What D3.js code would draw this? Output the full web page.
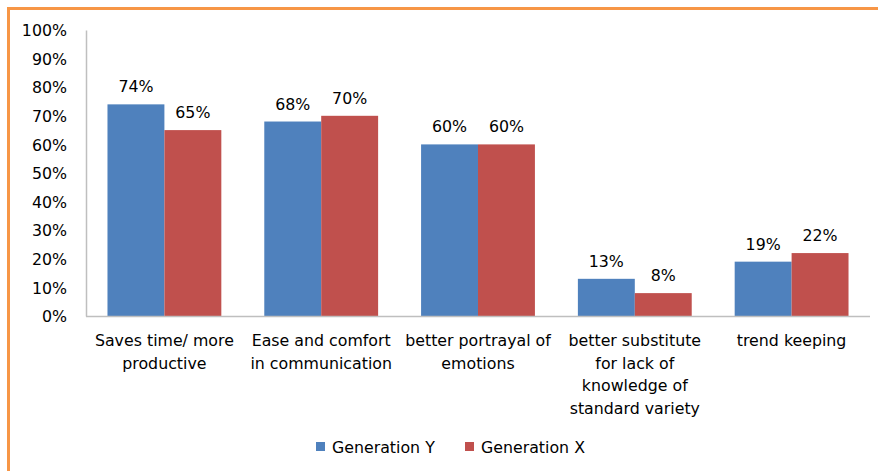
<!DOCTYPE html>
<html>
<head>
<meta charset="utf-8">
<script src="https://cdn.jsdelivr.net/npm/d3@7"></script>
<style>
  body { margin: 0; background: #fff; }
  svg text { font-family: "DejaVu Sans", "Open Sans", sans-serif; fill: #000; }
</style>
</head>
<body>
<div id="chart"></div>
<script>
// data
const categories = [
  ["Saves time/ more", "productive"],
  ["Ease and comfort", "in communication"],
  ["better portrayal of", "emotions"],
  ["better substitute", "for lack of", "knowledge of", "standard variety"],
  ["trend keeping"]
];
const seriesNames = ["Generation Y", "Generation X"];
const genY = [74, 68, 60, 13, 19];
const genX = [65, 70, 60, 8, 22];
const yTicks = [0, 10, 20, 30, 40, 50, 60, 70, 80, 90, 100];

const colors = ["#4F81BD", "#C0504D"];
const W = 878, H = 471;
const margin = {top: 30, right: 8, bottom: 155, left: 86};
const width = W - margin.left - margin.right,
      height = H - margin.top - margin.bottom;
const fs = "15.8px";

const svg = d3.select("#chart").append("svg")
  .attr("width", W).attr("height", H);

// orange frame (cropped on right/bottom)
svg.append("line").attr("x1", 8.5).attr("x2", W).attr("y1", 8.5).attr("y2", 8.5)
  .attr("stroke", "#F79646").attr("stroke-width", 3);
svg.append("line").attr("x1", 8.5).attr("x2", 8.5).attr("y1", 7).attr("y2", H)
  .attr("stroke", "#F79646").attr("stroke-width", 3);

const g = svg.append("g").attr("transform", "translate(" + margin.left + "," + margin.top + ")");

const idx = d3.range(categories.length);
const x = d3.scaleBand().domain(idx).range([0, width]).paddingInner(0.274).paddingOuter(0.137);
const x1 = d3.scaleBand().domain([0, 1]).range([0, x.bandwidth()]);
const y = d3.scaleLinear().domain([0, 100]).range([height, 0]);

// y axis
const yAxis = g.append("g")
  .call(d3.axisLeft(y).tickValues(yTicks).tickFormat(d => d + "%").tickSize(0).tickPadding(19));
yAxis.select(".domain").attr("stroke", "#BFBFBF").attr("stroke-width", 1.5);
yAxis.selectAll("text").style("font-size", fs).attr("dy", "0.36em");

// bars
const series = [genY, genX];
series.forEach((vals, s) => {
  const grp = g.append("g");
  grp.selectAll("rect").data(vals).enter().append("rect")
    .attr("x", (d, i) => x(i) + x1(s))
    .attr("y", d => y(d))
    .attr("width", x1.bandwidth())
    .attr("height", d => height - y(d))
    .attr("fill", colors[s]);
  grp.selectAll("text").data(vals).enter().append("text")
    .attr("x", (d, i) => x(i) + x1(s) + x1.bandwidth() / 2)
    .attr("y", d => y(d) - 12)
    .attr("text-anchor", "middle")
    .style("font-size", fs)
    .text(d => d + "%");
});

// x axis
g.append("line").attr("x1", 0).attr("x2", width).attr("y1", height + 0.5).attr("y2", height + 0.5)
  .attr("stroke", "#BFBFBF").attr("stroke-width", 1.5);
const xl = g.append("g").attr("transform", "translate(0," + height + ")");
categories.forEach((lines, i) => {
  const t = xl.append("text")
    .attr("x", x(i) + x.bandwidth() / 2)
    .attr("y", 30)
    .attr("text-anchor", "middle")
    .style("font-size", fs);
  lines.forEach((ln, j) => {
    t.append("tspan").attr("x", x(i) + x.bandwidth() / 2).attr("dy", j ? 22.7 : 0).text(ln);
  });
});

// legend
const legX = [316, 465];
const leg = svg.append("g");
seriesNames.forEach((n, s) => {
  leg.append("rect").attr("x", legX[s]).attr("y", 442).attr("width", 9).attr("height", 9).attr("fill", colors[s]);
  leg.append("text").attr("x", legX[s] + 16).attr("y", 452.5).style("font-size", fs).text(n);
});
</script>
</body>
</html>
